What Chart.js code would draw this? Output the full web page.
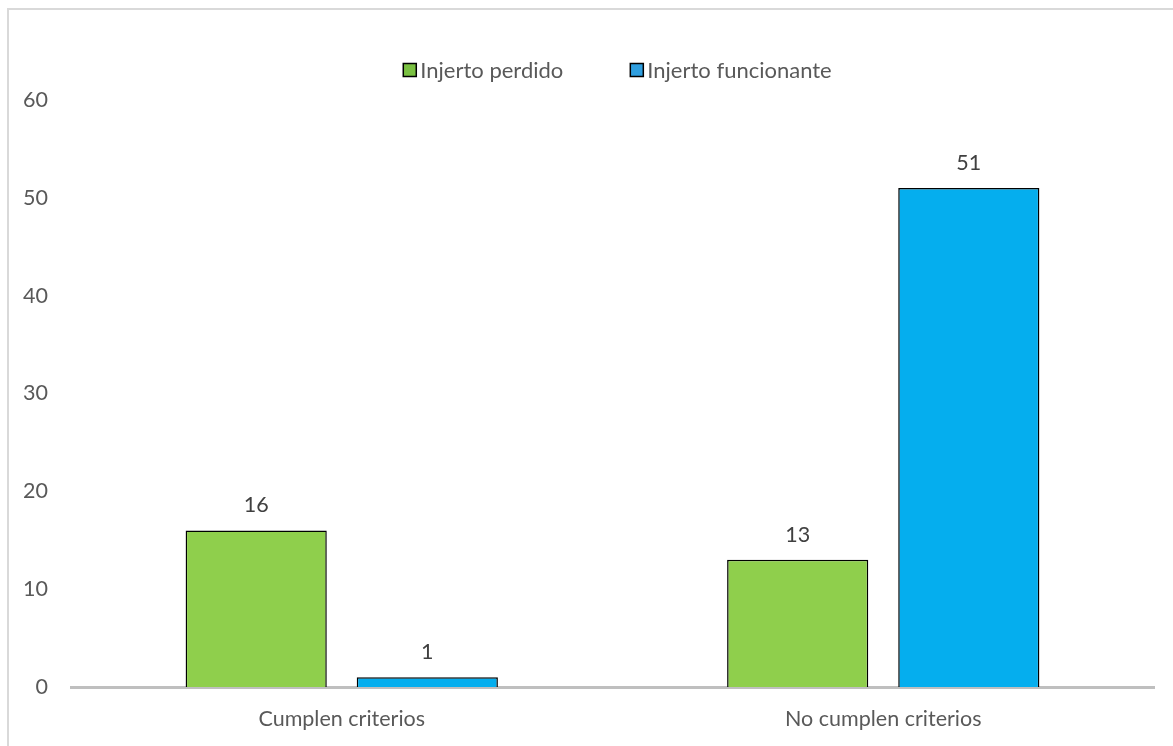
<!DOCTYPE html>
<html>
<head>
<meta charset="utf-8">
<script src="https://cdn.jsdelivr.net/npm/chart.js@4.4.1/dist/chart.umd.min.js"></script>
<style>
  html, body { margin: 0; padding: 0; background: #fff; }
  #wrap { position: relative; width: 1173px; height: 746px; }
  #frame { position: absolute; left: 7px; top: 8px; right: -4px; bottom: -4px;
           border-left: 2px solid #d9d9d9; border-top: 2px solid #d9d9d9; pointer-events: none; }
  canvas { display: block; }
</style>
</head>
<body>
<div id="wrap">
  <canvas id="chart" width="1173" height="746"></canvas>
  <div id="frame"></div>
</div>
<script>
// Grupos del eje X
const categories = ['Cumplen criterios', 'No cumplen criterios'];
// Número de pacientes por grupo
const injertoPerdido = [16, 13];
const injertoFuncionante = [1, 51];
// Escala del eje Y
const yTicks = [0, 10, 20, 30, 40, 50, 60];

const FONT = 'Lato, "Open Sans", sans-serif';
const FONT_SIZE = 21.5;

// Etiquetas con el valor encima de cada barra
const valueLabels = {
  id: 'valueLabels',
  afterDatasetsDraw(chart) {
    const ctx = chart.ctx;
    ctx.save();
    ctx.fillStyle = '#404040';
    ctx.font = FONT_SIZE + 'px ' + FONT;
    ctx.textAlign = 'center';
    ctx.textBaseline = 'middle';
    chart.data.datasets.forEach((ds, i) => {
      chart.getDatasetMeta(i).data.forEach((bar, j) => {
        ctx.fillText(String(ds.data[j]), bar.x, bar.y - 25);
      });
    });
    ctx.restore();
  }
};

// Leyenda en una fila, centrada sobre el área de trazado
const rowLegend = {
  id: 'rowLegend',
  afterDraw(chart) {
    const ctx = chart.ctx;
    const area = chart.chartArea;
    const box = 13, gap = 4, spacing = 67;
    ctx.save();
    ctx.font = '22px ' + FONT;
    ctx.textBaseline = 'middle';
    const items = chart.data.datasets.map(ds => ({
      text: ds.label, color: ds.legendColor, w: ctx.measureText(ds.label).width
    }));
    const total = items.reduce((s, it) => s + box + gap + it.w, 0) + spacing * (items.length - 1);
    let x = (area.left + area.right) / 2 + 5 - total / 2;
    const y = 70;
    items.forEach(it => {
      ctx.fillStyle = it.color;
      ctx.fillRect(x, y - box / 2, box, box);
      ctx.strokeStyle = '#000';
      ctx.lineWidth = 1.5;
      ctx.strokeRect(x, y - box / 2, box, box);
      ctx.fillStyle = '#595959';
      ctx.fillText(it.text, x + box + gap, y + 1);
      x += box + gap + it.w + spacing;
    });
    ctx.restore();
  }
};

new Chart(document.getElementById('chart'), {
  type: 'bar',
  data: {
    labels: categories,
    datasets: [
      {
        label: 'Injerto perdido',
        data: injertoPerdido,
        backgroundColor: '#8fcf4c',
        legendColor: '#7ac142',
        borderColor: '#000',
        borderWidth: 1.5,
        categoryPercentage: 0.632,
        barPercentage: 0.825
      },
      {
        label: 'Injerto funcionante',
        data: injertoFuncionante,
        backgroundColor: '#05aeee',
        legendColor: '#2f9fe0',
        borderColor: '#000',
        borderWidth: 1.5,
        categoryPercentage: 0.632,
        barPercentage: 0.825
      }
    ]
  },
  options: {
    responsive: false,
    animation: false,
    layout: { padding: { left: 0, right: 19, top: 100, bottom: 0 } },
    plugins: {
      legend: { display: false },
      tooltip: { enabled: false }
    },
    scales: {
      x: {
        afterFit(scale) { scale.height = 59; },
        grid: { display: false, drawTicks: false },
        border: { display: true, color: '#bfbfbf', width: 3 },
        ticks: { color: '#595959', font: { family: FONT, size: FONT_SIZE }, padding: 19 }
      },
      y: {
        min: yTicks[0],
        max: yTicks[yTicks.length - 1],
        afterBuildTicks(scale) { scale.ticks = yTicks.map(v => ({ value: v })); },
        afterFit(scale) { scale.width = 71; },
        grid: { display: false, drawTicks: false },
        border: { display: false },
        ticks: { color: '#595959', font: { family: FONT, size: FONT_SIZE }, padding: 23 }
      }
    }
  },
  plugins: [valueLabels, rowLegend]
});
</script>
</body>
</html>
